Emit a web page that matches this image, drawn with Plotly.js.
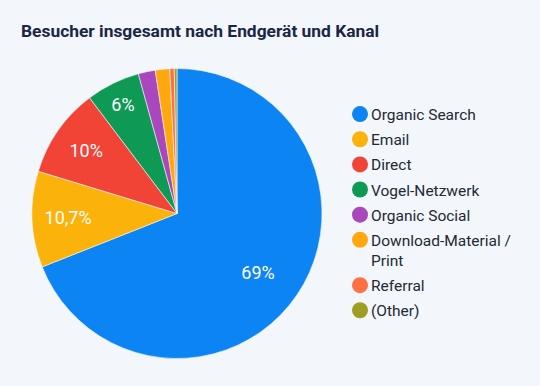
<!DOCTYPE html>
<html><head><meta charset="utf-8">
<script src="https://cdn.plot.ly/plotly-3.0.1.min.js"></script>
<style>html,body{margin:0;padding:0;background:#f3f6fb;}#chart{width:540px;height:386px;}</style>
</head><body><div id="chart"></div>
<script>
const categories = ["Organic Search","Email","Direct","Vogel-Netzwerk","Organic Social","Download-Material /<br>Print","Referral","(Other)"];
const values = [69, 10.7, 10, 6, 1.9, 1.6, 0.5, 0.3];
const sliceLabels = ["69%","10,7%","10%","6%","","","",""];
const colors = ["#0d84f4","#fbb20a","#f14336","#0e9a55","#ab47bc","#ffa80d","#ff7043","#9e9d24"];

const traces = [{
  type:'pie', labels:categories, values:values, text:sliceLabels,
  textinfo:'text', textposition:'inside', insidetextorientation:'horizontal',
  sort:false, direction:'clockwise', rotation:0, showlegend:false,
  marker:{colors:colors, line:{color:'#f3f6fb', width:0.6}},
  textfont:{family:'Roboto, sans-serif', size:18, color:'#ffffff'},
  domain:{x:[0.0593,0.5963], y:[0.0712,0.8225]},
  hoverinfo:'label+percent'
}];
categories.forEach((c,i)=>{
  traces.push({type:'scatter', mode:'markers', x:[null], y:[null], name:c, legendgroup:'g'+i,
    marker:{symbol:'circle', size:17, color:colors[i]}, showlegend:true, hoverinfo:'skip'});
});

const layout = {
  width:540, height:386,
  margin:{l:0,r:0,t:0,b:0},
  paper_bgcolor:'#f3f6fb', plot_bgcolor:'#f3f6fb',
  title:{text:'<b>Besucher insgesamt nach Endgerät und Kanal</b>', x:21/540, xanchor:'left', y:1-31/386, yanchor:'middle',
    font:{family:'Roboto, sans-serif', size:17.4, color:'#1a2744'}},
  xaxis:{visible:false}, yaxis:{visible:false},
  legend:{x:340/540, xanchor:'left', y:1-97.5/386, yanchor:'top', valign:'top',
    font:{family:'Roboto, sans-serif', size:15.5, color:'#222a33'},
    tracegroupgap:2, itemwidth:30, bgcolor:'rgba(0,0,0,0)'},
  showlegend:true
};
Plotly.newPlot('chart', traces, layout, {displayModeBar:false, staticPlot:true}).then(()=>{
  document.querySelectorAll('.legendtext').forEach(t=>t.setAttribute('transform','translate(-9,0)'));
  const first = document.querySelector('.slice .slicetext');
  if (first) {
    const tr = first.getAttribute('transform') || '';
    first.setAttribute('transform', 'translate(21,18) ' + tr);
  }
});
</script></body></html>
